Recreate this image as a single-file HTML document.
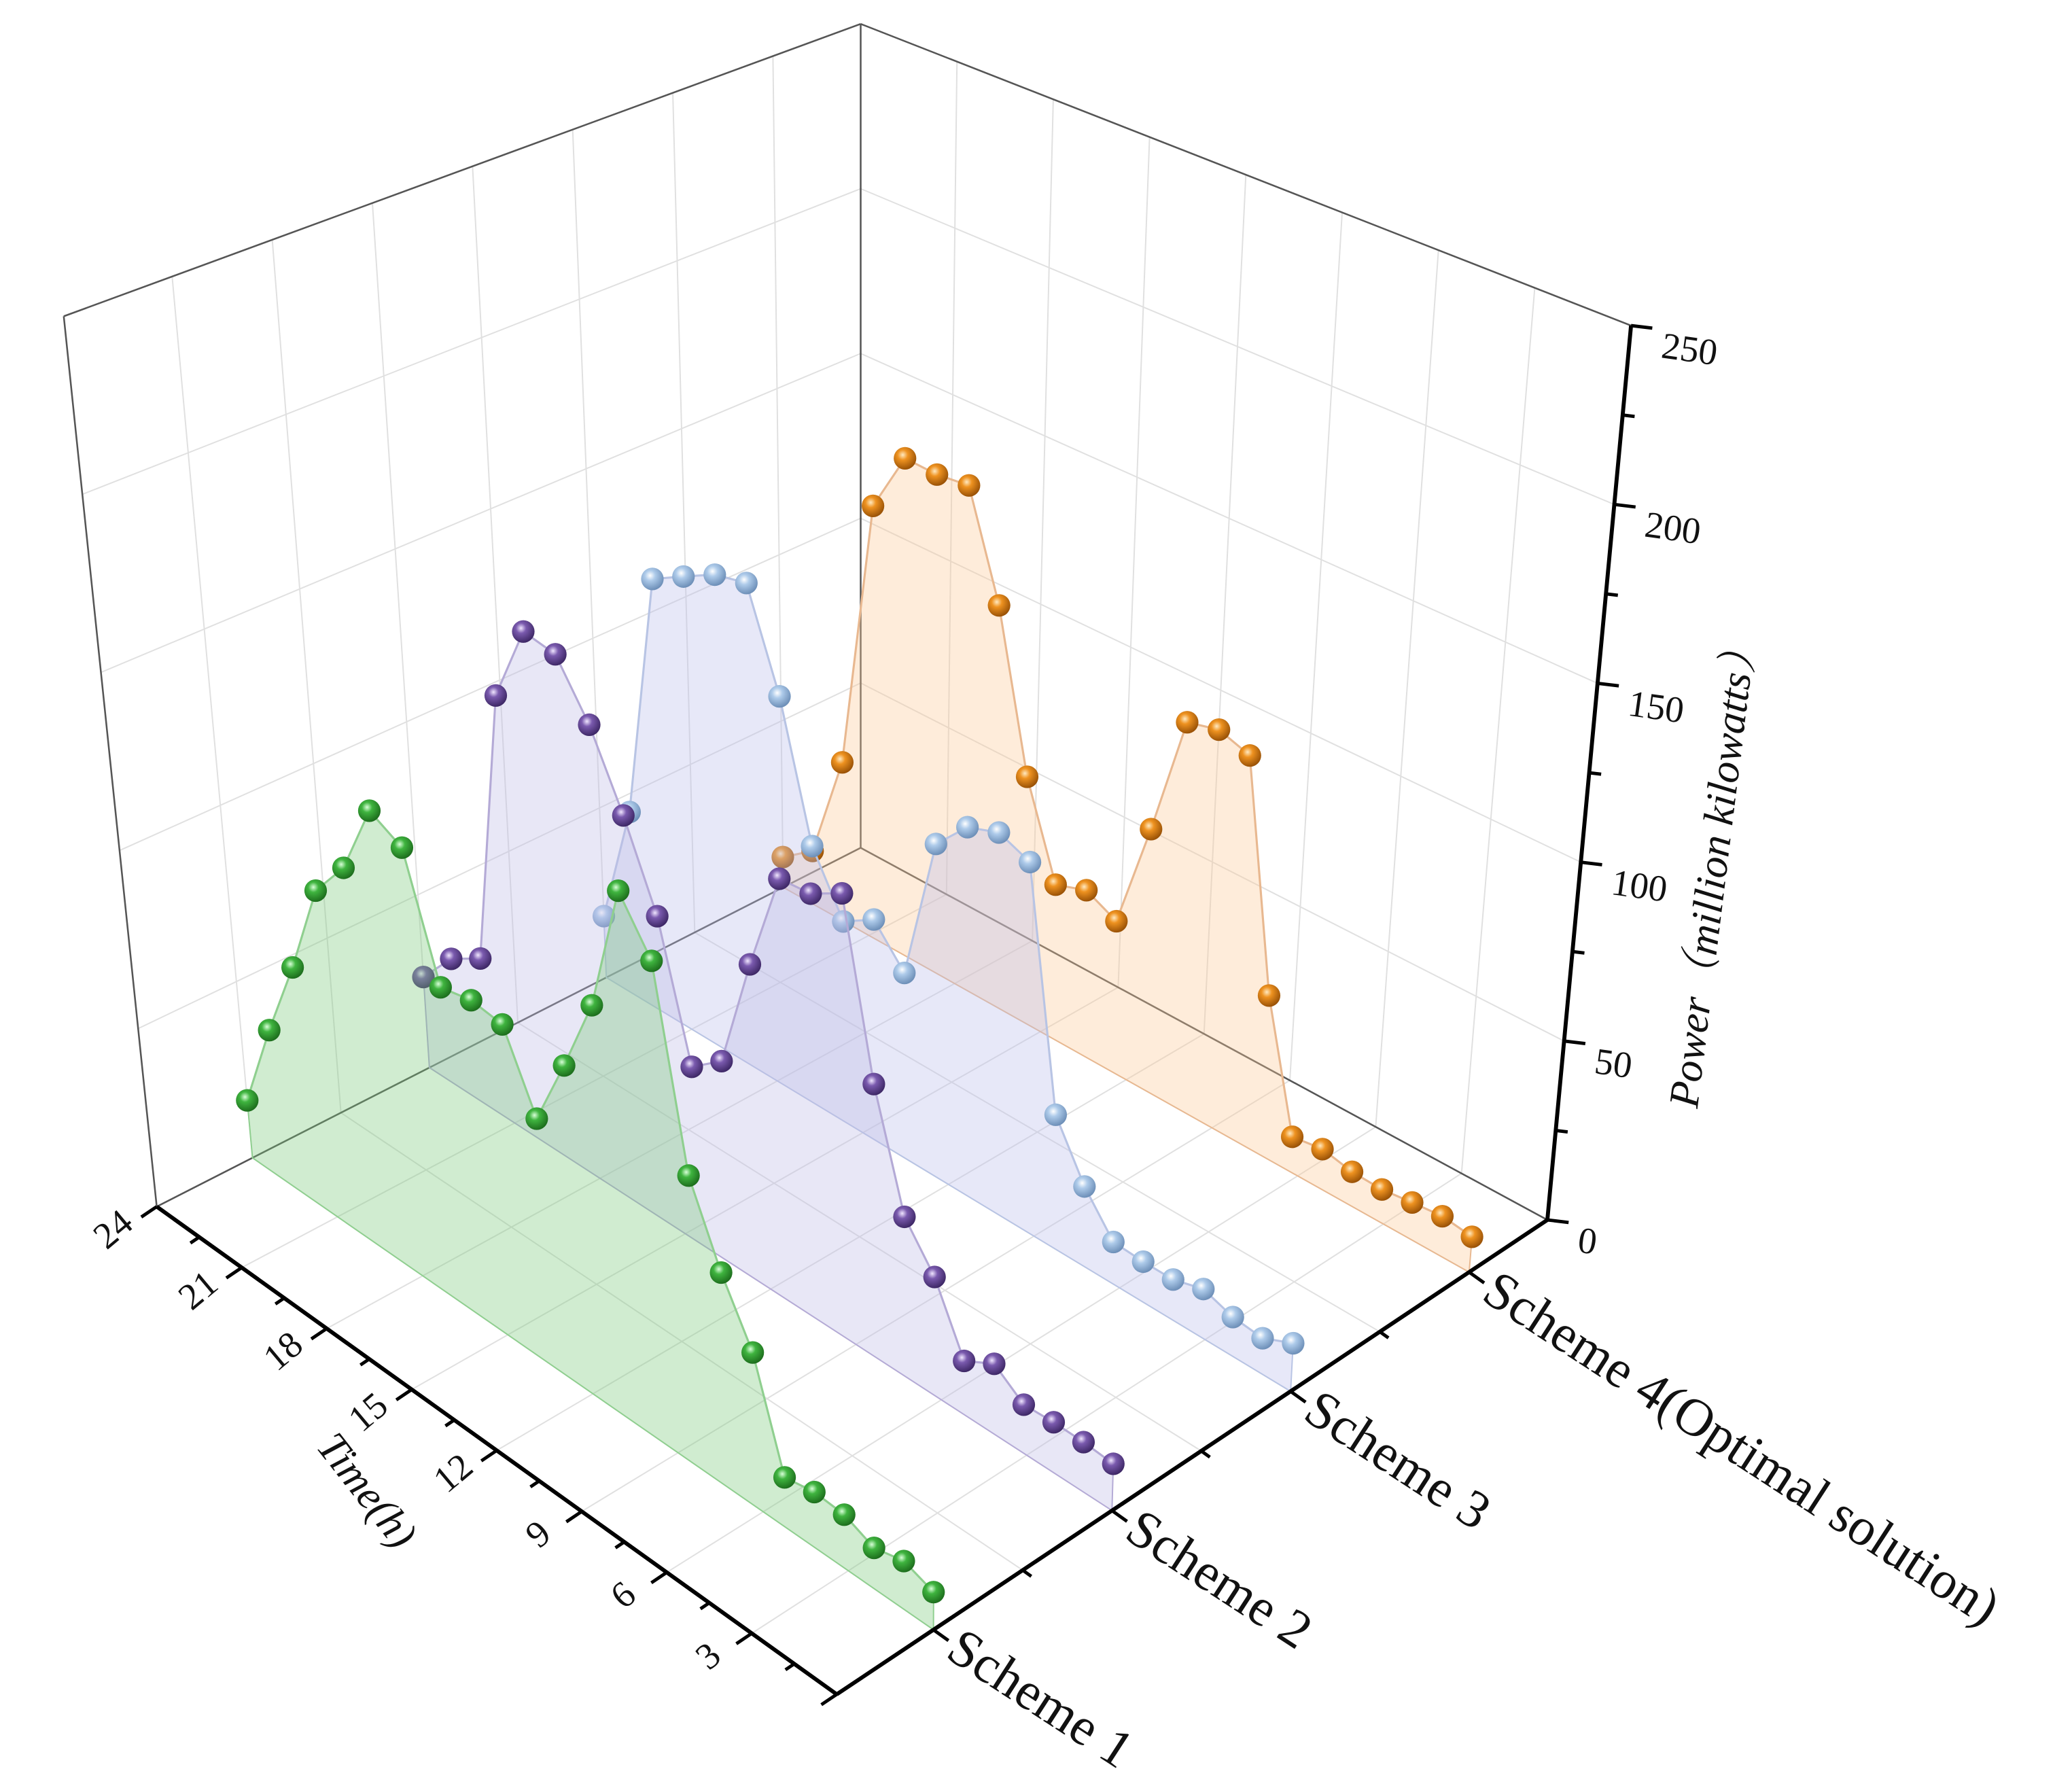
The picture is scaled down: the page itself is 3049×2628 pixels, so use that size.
<!DOCTYPE html>
<html><head><meta charset="utf-8"><style>
html,body{margin:0;padding:0;background:#fff;}
svg{display:block;}
text{font-family:"Liberation Serif","Noto Serif CJK SC",serif;fill:#111;}
</style></head><body>
<svg id="chart" width="3049" height="2628" viewBox="0 0 1560 1344" preserveAspectRatio="none" xmlns="http://www.w3.org/2000/svg">
<defs>
<radialGradient id="g-green" cx="40%" cy="35%" r="65%"><stop offset="0" stop-color="#d8ffd8"/><stop offset="0.35" stop-color="#3fb43f"/><stop offset="1" stop-color="#1d6e1d"/></radialGradient>
<radialGradient id="g-purple" cx="40%" cy="35%" r="65%"><stop offset="0" stop-color="#f0e6ff"/><stop offset="0.35" stop-color="#7a5aae"/><stop offset="1" stop-color="#3e2866"/></radialGradient>
<radialGradient id="g-blue" cx="40%" cy="35%" r="65%"><stop offset="0" stop-color="#ffffff"/><stop offset="0.35" stop-color="#aecbea"/><stop offset="1" stop-color="#6d8fb8"/></radialGradient>
<radialGradient id="g-orange" cx="40%" cy="35%" r="65%"><stop offset="0" stop-color="#ffe9c0"/><stop offset="0.35" stop-color="#ee9220"/><stop offset="1" stop-color="#9a5206"/></radialGradient>
</defs>
<g id="grid"></g>
<g id="frame"></g>
<g id="series"></g>
<g id="axes"></g>
<text x="0" y="0" font-size="32" font-style="italic" text-anchor="middle" transform="translate(268,1128) rotate(52)">Time(h)</text>
<text x="0" y="0" font-size="32" font-style="italic" text-anchor="middle" transform="translate(1300,655) rotate(-83)">Power（million kilowatts）</text>
</svg>
<script>
const hours = [1,2,3,4,5,6,7,8,9,10,11,12,13,14,15,16,17,18,19,20,21,22,23,24];
const schemeNames = ["Scheme 1","Scheme 2","Scheme 3","Scheme 4(Optimal solution)"];
const scheme1 = [9.9,12.7,10.8,14.2,14.8,13.3,41.3,57.4,78.2,131.0,144.9,108.6,86.9,67.0,87.5,88.8,87.0,120.4,125.4,104.1,92.3,65.2,41.9,16.3];
const scheme2 = [12.5,13.2,13.4,13.0,18.9,14.5,32.2,43.5,74.8,122.3,117.3,116.5,87.7,55.6,48.8,85.9,109.2,129.8,144.8,146.3,123.0,42.4,36.9,26.2];
const scheme3 = [13.1,9.6,10.5,13.3,11.0,11.0,11.5,22.0,37.1,103.1,106.7,103.5,94.0,52.5,62.8,57.3,74.0,112.3,140.3,138.0,132.7,127.2,53.9,18.1];
const scheme4 = [9.8,10.9,10.1,9.1,9.4,11.1,9.9,45.3,109.1,112.1,109.8,74.6,43.4,47.7,44.6,71.4,117.0,147.8,146.6,147.0,128.4,47.3,15.9,9.1];
const timeTicks = [3,6,9,12,15,18,21,24];
const powerTicks = [0,50,100,150,200,250];

const NS = "http://www.w3.org/2000/svg";
function P(u,s,p){
  const a=(1-u)*(1-s), b=u*(1-s), c=(1-u)*s, d=u*s, k=p/250;
  return [630*a+118*b+1165*c+648*d + k*(-7*a-70*b+63*c+0*d),
          1275*a+908*b+918*c+638*d + k*(-723*a-670*b-673*c-620*d)];
}
function tU(t){return t/24;}
function hourU(h){return (h-1)/23;}
function sS(k){return 0.136+(k-1)*0.2513;}
function mk(tag,attrs,parent){const e=document.createElementNS(NS,tag);for(const k in attrs)e.setAttribute(k,attrs[k]);parent.appendChild(e);return e;}
function line(p1,p2,stroke,w,parent){return mk("line",{x1:p1[0],y1:p1[1],x2:p2[0],y2:p2[1],stroke:stroke,"stroke-width":w},parent);}

const grid=document.getElementById("grid"), frame=document.getElementById("frame"), ser=document.getElementById("series"), axes=document.getElementById("axes");
const GC="#e0e0e0";
const sGrid=[sS(1),sS(1.5),sS(2),sS(2.5),sS(3),sS(3.5),sS(4)];
sGrid.forEach(s=>{const l=line(P(1,s,0),P(1,s,250),GC,1,grid);

});
powerTicks.slice(1,5).forEach(p=>{const l=line(P(1,0,p),P(1,1,p),GC,1,grid);


const r=line(P(0,1,p),P(1,1,p),GC,1,grid);

});
timeTicks.slice(0,7).forEach(t=>{const l=line(P(tU(t),1,0),P(tU(t),1,250),GC,1,grid);


const f=line(P(tU(t),0,0),P(tU(t),1,0),GC,1,grid);

});
sGrid.forEach(s=>{const f=line(P(0,s,0),P(1,s,0),GC,1,grid);

});
const FC="#555";
[[P(1,0,0),P(1,0,250)],[P(1,1,0),P(1,1,250)],[P(1,0,250),P(1,1,250)],[P(1,1,250),P(0,1,250)],[P(1,0,0),P(1,1,0)],[P(1,1,0),P(0,1,0)]].forEach(pr=>{
const l=line(pr[0],pr[1],FC,1.3,frame);

});

const seriesDefs=[
 {data:scheme4,k:4,fill:"rgba(252,200,150,0.35)",line:"#e8b890",grad:"g-orange",name:"scheme-4"},
 {data:scheme3,k:3,fill:"rgba(185,190,235,0.35)",line:"#b8c4e4",grad:"g-blue",name:"scheme-3"},
 {data:scheme2,k:2,fill:"rgba(190,185,230,0.35)",line:"#b4aad6",grad:"g-purple",name:"scheme-2"},
 {data:scheme1,k:1,fill:"rgba(120,200,120,0.35)",line:"#8fcf8f",grad:"g-green",name:"scheme-1"}
];
seriesDefs.forEach(sd=>{
  const s=sS(sd.k);
  const g=mk("g",{},ser);
  
  
  const pts=hours.map((h,i)=>P(hourU(h),s,sd.data[i]));
  const b0=P(hourU(hours[0]),s,0), b1=P(hourU(hours[hours.length-1]),s,0);
  const poly=[b0].concat(pts).concat([b1]).map(p=>p[0].toFixed(1)+","+p[1].toFixed(1)).join(" ");
  const area=mk("polygon",{points:poly,fill:sd.fill,stroke:sd.line,"stroke-width":1},g);
  
  
  const pl=mk("polyline",{points:pts.map(p=>p[0].toFixed(1)+","+p[1].toFixed(1)).join(" "),fill:"none",stroke:sd.line,"stroke-width":1.6},g);
  
  
  pts.forEach((p,i)=>{
    const c=mk("circle",{cx:p[0],cy:p[1],r:8.5,fill:"url(#"+sd.grad+")"},g);
    
    
  });
});

const AC="#000";
const ta=line(P(0,0,0),P(1,0,0),AC,3,axes);


const sa=line(P(0,0,0),P(0,1,0),AC,3,axes);


const pa=line(P(0,1,0),P(0,1,250),AC,3,axes);


for(let t=0;t<=24;t+=1.5){
  const maj=(t%3===0), L=maj?14:8, p=P(tU(t),0,0);
  const tk=line(p,[p[0]-0.83*L,p[1]+0.56*L],AC,2.5,axes);
  
  
}
timeTicks.forEach(t=>{
  const p=P(tU(t),0,0);
  const tx=mk("text",{"font-size":28,"text-anchor":"middle",transform:"translate("+(p[0]-27)+","+(p[1]+24)+") rotate(-40)"},axes);
  tx.textContent=t;
  
  
});
for(let v=0;v<=250;v+=25){
  const maj=(v%50===0), L=maj?16:9, p=P(0,1,v);
  const tk=line(p,[p[0]+L,p[1]+L*0.12],AC,2.5,axes);
  
  
}
powerTicks.forEach(v=>{
  const p=P(0,1,v);
  const tx=mk("text",{"font-size":28,"text-anchor":"start",transform:"translate("+(p[0]+22)+","+(p[1]+24)+") rotate(8)"},axes);
  tx.textContent=v;
  
  
});
for(let k=1;k<=4.5;k+=0.5){
  const s=sS(k); if(s>1) break;
  const maj=Number.isInteger(k), L=maj?14:8, p=P(0,s,0);
  const tk=line(p,[p[0]+0.81*L,p[1]+0.58*L],AC,2.5,axes);
  
  
}
schemeNames.forEach((n,i)=>{
  const p=P(0,sS(i+1),0);
  const tx=mk("text",{"font-size":40,"text-anchor":"start",transform:"translate("+(p[0]+8)+","+(p[1]+20)+") rotate(33)"},axes);
  tx.textContent=n;
  
  
});
</script>
</body></html>
